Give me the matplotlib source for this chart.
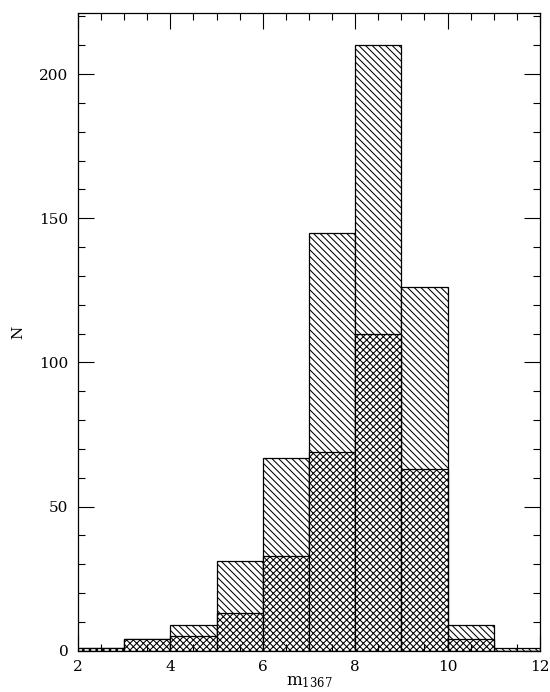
import matplotlib
matplotlib.use("Agg")
import matplotlib.pyplot as plt
from matplotlib.ticker import MultipleLocator

# Magnitude bins (left edges, width 1 mag)
bin_left = [2, 3, 4, 5, 6, 7, 8, 9, 10, 11]
# Full sample counts per bin
n_all = [1, 4, 9, 31, 67, 145, 210, 126, 9, 1]
# Sub-sample counts per bin
n_sub = [1, 4, 5, 13, 33, 69, 110, 63, 4, 0]

x_ticks = [2, 4, 6, 8, 10, 12]
y_ticks = [0, 50, 100, 150, 200]

plt.rcParams["font.family"] = ["DejaVu Serif"]
plt.rcParams["mathtext.fontset"] = "dejavuserif"
plt.rcParams["hatch.linewidth"] = 0.75

fig = plt.figure(figsize=(5.5, 6.92), dpi=100)
ax = fig.add_axes([0.1418, 0.0597, 0.84, 0.9208])

ax.bar(bin_left, n_all, width=1, align="edge", facecolor="white",
       edgecolor="black", linewidth=0.9, hatch="\\\\\\\\\\")
ax.bar(bin_left, n_sub, width=1, align="edge", facecolor="white",
       edgecolor="black", linewidth=0.9, hatch="xxxxx")

ax.set_xlim(2, 12)
ax.set_ylim(0, 221)
ax.set_xticks(x_ticks)
ax.set_yticks(y_ticks)
ax.xaxis.set_minor_locator(MultipleLocator(0.5))
ax.yaxis.set_minor_locator(MultipleLocator(10))
ax.tick_params(which="both", direction="in", top=True, right=True,
               width=0.8, labelsize=11, colors="black")
ax.tick_params(which="major", length=11.5, pad=7)
ax.tick_params(which="minor", length=5)
for s in ax.spines.values():
    s.set_linewidth(0.9)

ax.set_xlabel(r"m$_{\mathrm{1367}}$", fontsize=12)
ax.xaxis.set_label_coords(0.5, -0.035)
ax.set_ylabel("N", fontsize=11)
ax.yaxis.set_label_coords(-0.115, 0.5)

fig.savefig("out.png", dpi=100)
